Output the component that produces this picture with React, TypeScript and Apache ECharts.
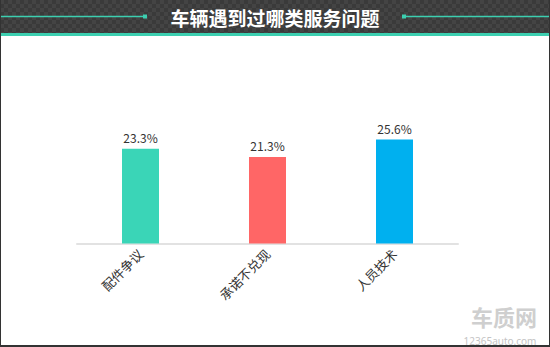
import React, { useEffect, useRef } from "react";
import * as echarts from "echarts";

const title = "车辆遇到过哪类服务问题";
const categories = ["配件争议", "承诺不兑现", "人员技术"];
const values = [23.3, 21.3, 25.6];
const barColors = ["#3ad5b7", "#ff6666", "#00b0ef"];

const checker =
  "data:image/svg+xml;charset=utf-8," +
  encodeURIComponent(
    '<svg xmlns="http://www.w3.org/2000/svg" width="8" height="8"><rect width="8" height="8" fill="#3a3a3a"/><rect width="4" height="4" fill="#444444"/><rect x="4" y="4" width="4" height="4" fill="#444444"/></svg>'
  );

export default function App() {
  const ref = useRef<HTMLDivElement>(null);
  useEffect(() => {
    const chart = echarts.init(ref.current!, null, { renderer: "svg" });
    const teal = "#3ccfb0";
    chart.setOption({
      animation: false,
      backgroundColor: "#ffffff",
      grid: { left: 77, right: 92, top: 121.5, bottom: 103.5 },
      xAxis: {
        type: "category",
        data: categories,
        axisLine: { lineStyle: { color: "#e2e2e2", width: 2 } },
        axisTick: { show: false },
        axisLabel: {
          rotate: 45,
          color: "#333",
          fontSize: 13,
          margin: 8,
          fontFamily: "Noto Sans CJK SC",
        },
      },
      yAxis: { type: "value", min: 0, max: 30, show: false },
      series: [
        {
          type: "bar",
          barWidth: 37,
          data: values.map((v, i) => ({ value: v, itemStyle: { color: barColors[i] } })),
          label: {
            show: true,
            position: "top",
            distance: 5,
            color: "#333",
            fontSize: 12,
            fontFamily: "Noto Sans CJK SC",
            formatter: (p: any) => p.value.toFixed(1) + "%",
          },
        },
      ],
      graphic: [
        {
          type: "rect",
          shape: { x: 0, y: 0, width: 550, height: 33 },
          style: { fill: { image: checker, repeat: "repeat" } as any },
          z: 10,
        },
        { type: "rect", shape: { x: 0, y: 33, width: 550, height: 3 }, style: { fill: teal }, z: 11 },
        { type: "line", shape: { x1: 1, y1: 16.5, x2: 145, y2: 16.5 }, style: { stroke: teal, lineWidth: 1.5 }, z: 11 },
        { type: "rect", shape: { x: 143, y: 14.5, width: 4, height: 4 }, style: { fill: teal }, z: 11 },
        { type: "line", shape: { x1: 404, y1: 16.5, x2: 550, y2: 16.5 }, style: { stroke: teal, lineWidth: 1.5 }, z: 11 },
        { type: "rect", shape: { x: 402, y: 14.5, width: 4, height: 4 }, style: { fill: teal }, z: 11 },
        {
          type: "text",
          x: 275,
          y: 17,
          style: {
            text: title,
            fill: "#ffffff",
            font: "bold 19px 'Noto Sans CJK SC'",
            textAlign: "center",
            textVerticalAlign: "middle",
          },
          z: 12,
        },
        {
          type: "text",
          x: 504,
          y: 316,
          style: {
            text: "车质网",
            fill: "#cfcfcf",
            font: "bold 22px 'Noto Sans CJK SC'",
            lineHeight: 22,
            textAlign: "center",
            textVerticalAlign: "middle",
          },
          z: 5,
        },
        {
          type: "text",
          x: 500,
          y: 340.5,
          style: {
            text: "12365auto.com",
            fill: "#c4c4c4",
            font: "10px 'Noto Sans'",
            lineHeight: 10,
            textAlign: "center",
            textVerticalAlign: "middle",
          },
          z: 5,
        },
        { type: "rect", shape: { x: 0, y: 0, width: 1, height: 347 }, style: { fill: "#333" }, z: 20 },
        { type: "rect", shape: { x: 549, y: 0, width: 1, height: 347 }, style: { fill: "#333" }, z: 20 },
        { type: "rect", shape: { x: 0, y: 345, width: 550, height: 2 }, style: { fill: "#333" }, z: 20 },
      ],
    });
    return () => chart.dispose();
  }, []);
  return (
    <div
      ref={ref}
      style={{ position: "fixed", left: 0, top: 0, width: 550, height: 347 }}
    />
  );
}
